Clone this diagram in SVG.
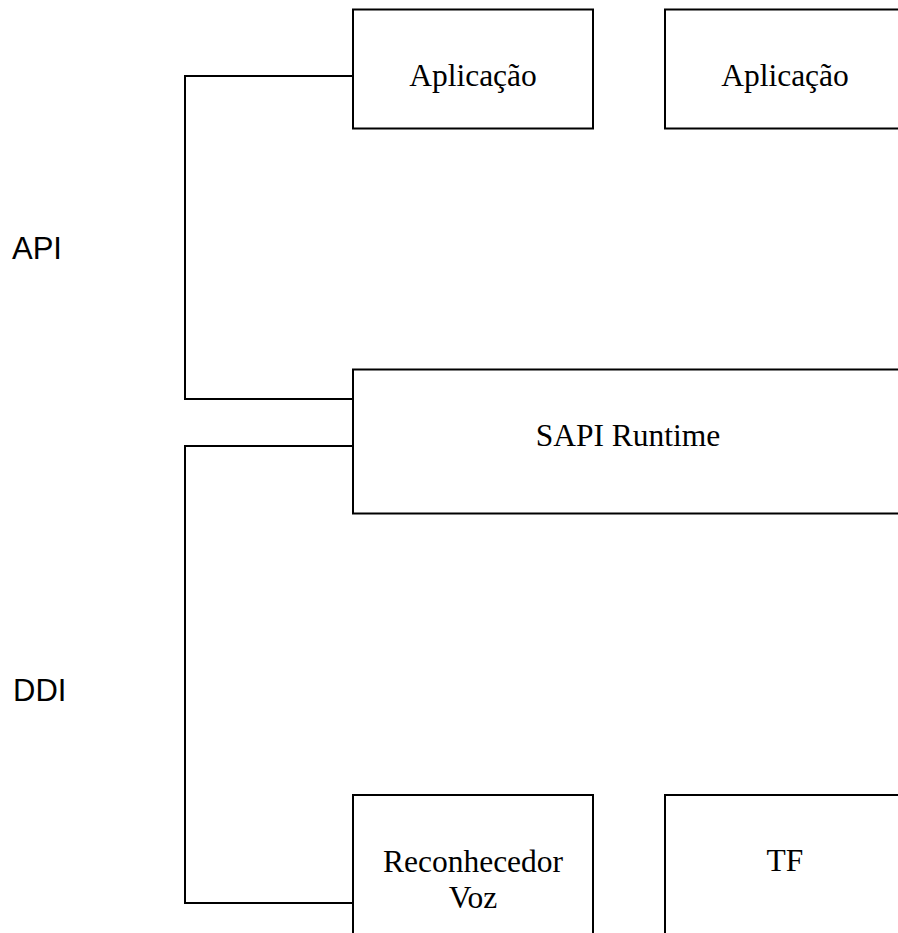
<svg xmlns="http://www.w3.org/2000/svg" width="898" height="933" viewBox="0 0 898 933">
<style>
.box{fill:#fff;stroke:#000;stroke-width:2}
.ln{fill:none;stroke:#000;stroke-width:2}
.t{font-family:"Liberation Serif","Times New Roman",serif;font-size:31.5px;fill:#000;text-anchor:middle}
.s{font-family:"Liberation Sans",Arial,sans-serif;font-size:31px;fill:#000}
</style>
<rect width="898" height="933" fill="#fff"/>
<g id="connectors">
<path class="ln" d="M353,76 H185 V399 H353"/>
<path class="ln" d="M353,446 H185 V903 H353"/>
</g>
<g id="app1"><rect class="box" x="353" y="9.5" width="240" height="119"/><text class="t" x="473" y="86">Aplicação</text></g>
<g id="app2"><rect class="box" x="665" y="9.5" width="240" height="119"/><text class="t" x="785" y="86">Aplicação</text></g>
<g id="sapi"><rect class="box" x="353" y="369.5" width="550" height="144"/><text class="t" x="628" y="446">SAPI Runtime</text></g>
<g id="reconhecedor"><rect class="box" x="353" y="795" width="240" height="160"/><text class="t" x="473" y="871.5">Reconhecedor</text><text class="t" x="473" y="908">Voz</text></g>
<g id="tf"><rect class="box" x="665" y="795" width="240" height="160"/><text class="t" x="785" y="871">TF</text></g>
<g id="label-api"><text class="s" x="12" y="259">API</text></g>
<g id="label-ddi"><text class="s" x="13" y="701">DDI</text></g>
</svg>
